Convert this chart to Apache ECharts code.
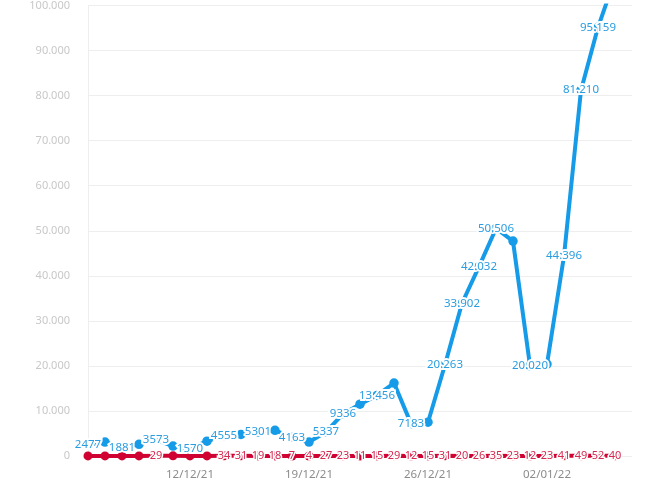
<!DOCTYPE html>
<html>
<head>
<meta charset="utf-8">
<script src="https://cdn.jsdelivr.net/npm/echarts@6/dist/echarts.min.js"></script>
<style>html,body{margin:0;padding:0;background:#fff;}#c{width:650px;height:487px;}</style>
</head>
<body>
<div id="c"></div>
<script>
var dates = ["06/12/21","07/12/21","08/12/21","09/12/21","10/12/21","11/12/21","12/12/21","13/12/21","14/12/21","15/12/21","16/12/21","17/12/21","18/12/21","19/12/21","20/12/21","21/12/21","22/12/21","23/12/21","24/12/21","25/12/21","26/12/21","27/12/21","28/12/21","29/12/21","30/12/21","31/12/21","01/01/22","02/01/22","03/01/22","04/01/22","05/01/22","06/01/22","07/01/22"];
var casos = [2477,3100,1881,2600,3573,2200,1570,3300,4555,4800,5301,5700,4163,3100,5337,9336,11500,13456,16200,7183,7500,20263,33902,42032,50506,47700,20020,20400,44396,81210,95159,106000,null];
var fallecidos = [21,18,25,22,29,30,26,24,34,31,19,18,7,4,27,23,11,15,29,12,15,31,20,26,35,23,12,23,41,49,52,40,null];
var yTicks = {min:0, max:100000, interval:10000};

function fmt(v){
  if (v == null) return '';
  var s = String(Math.round(v));
  if (Math.abs(v) < 10000) return s;
  return s.replace(/\B(?=(\d{3})+(?!\d))/g, '.');
}

var blue = '#169be8', red = '#d00232';
var chart = echarts.init(document.getElementById('c'), null, {renderer:'canvas'});
chart.setOption({
  animation:false,
  textStyle:{fontFamily:'Noto Sans'},
  grid:{left:88, right:18, top:1, bottom:31, containLabel:false},
  xAxis:{
    type:'category', data:dates, boundaryGap:false,
    axisLine:{show:false}, axisTick:{show:false},
    axisLabel:{color:'#8c8c8c', fontSize:11.5, margin:13, fontFamily:'Noto Sans',
      interval:function(i){return i % 7 === 6;}},
    splitLine:{show:false}
  },
  yAxis:{
    type:'value', min:yTicks.min, max:yTicks.max, interval:yTicks.interval,
    axisLine:{show:true, lineStyle:{color:'#eeeeee'}}, axisTick:{show:false},
    axisLabel:{color:'#c8c8c8', fontSize:11, margin:18, fontFamily:'Noto Sans', formatter:fmt},
    splitLine:{lineStyle:{color:'#eeeeee'}}
  },
  series:[
    {
      name:'Casos', type:'line', data:casos, color:blue,
      symbol:'circle', symbolSize:9.5, showAllSymbol:true,
      lineStyle:{width:4, color:blue}, itemStyle:{color:blue},
      label:{show:true, position:'inside', color:'#2a9de0', fontSize:11.5, fontFamily:'Noto Sans',
        textBorderColor:'#fff', textBorderWidth:4,
        formatter:function(p){return fmt(p.value);}},
      labelLayout:{hideOverlap:true}
    },
    {
      name:'Fallecidos', type:'line', data:fallecidos, color:red,
      symbol:'circle', symbolSize:9, showAllSymbol:true,
      lineStyle:{width:4, color:red}, itemStyle:{color:red},
      label:{show:true, position:'inside', color:'#d42a50', fontSize:11, fontFamily:'Noto Sans',
        textBorderColor:'#fff', textBorderWidth:3,
        formatter:function(p){return fmt(p.value);}},
      labelLayout:{hideOverlap:true}
    }
  ]
});
</script>
</body>
</html>
